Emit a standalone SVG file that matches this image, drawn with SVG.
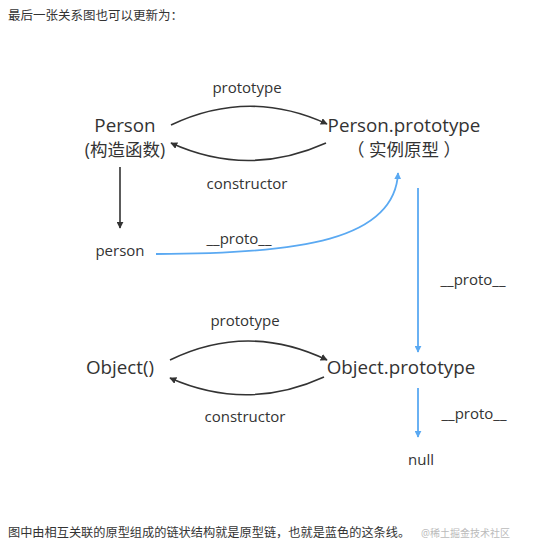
<svg xmlns="http://www.w3.org/2000/svg" width="538" height="557" viewBox="0 0 538 557">
<style>
text{font-family:"Open Sans","Noto Sans CJK SC",sans-serif;fill:#333}
.cap{font-size:12.5px;font-family:"Noto Sans CJK SC",sans-serif;fill:#333}
.node{font-size:18.8px}
.cjk{font-size:17.5px}
.lbl{font-size:15px}
.blk{fill:none;stroke:#333;stroke-width:1.6}
.blue{fill:none;stroke:#5aa9f2;stroke-width:1.8}
</style>
<defs>
<marker id="ak" viewBox="0 0 10 10" refX="9" refY="5" markerWidth="7" markerHeight="7" markerUnits="userSpaceOnUse" orient="auto"><path d="M0,0L10,5L0,10z" fill="#333"/></marker>
<marker id="ab" viewBox="0 0 10 10" refX="9" refY="5" markerWidth="7" markerHeight="7" markerUnits="userSpaceOnUse" orient="auto"><path d="M0,0L10,5L0,10z" fill="#5aa9f2"/></marker>
</defs>
<rect width="538" height="557" fill="#fff"/>
<text class="cap" x="8" y="20">最后一张关系图也可以更新为：</text>
<g id="connectors">
<path class="blk" d="M171,125 Q249,88 327,124" marker-end="url(#ak)"/>
<path class="blk" d="M326,143 Q248,178 171,143" marker-end="url(#ak)"/>
<path class="blk" d="M120,167 L120,228" marker-end="url(#ak)"/>
<path class="blue" d="M156,254 C300,254 395,240 398,173" marker-end="url(#ab)"/>
<path class="blue" d="M418,188 L418,352" marker-end="url(#ab)"/>
<path class="blk" d="M170,360 Q248,322 327,360" marker-end="url(#ak)"/>
<path class="blk" d="M324,377 Q247,412 170,378" marker-end="url(#ak)"/>
<path class="blue" d="M418,388 L418,437" marker-end="url(#ab)"/>
<text class="lbl" x="247" y="93" text-anchor="middle">prototype</text>
<text class="lbl" x="247" y="189" text-anchor="middle">constructor</text>
<text class="lbl" x="239" y="244" text-anchor="middle">__proto__</text>
<text class="lbl" x="473" y="285" text-anchor="middle">__proto__</text>
<text class="lbl" x="245" y="326" text-anchor="middle">prototype</text>
<text class="lbl" x="245" y="422" text-anchor="middle">constructor</text>
<text class="lbl" x="474" y="419" text-anchor="middle">__proto__</text>
</g>
<g id="person-ctor">
<text class="node" x="125" y="132" text-anchor="middle">Person</text>
<text class="cjk" x="125" y="156" text-anchor="middle">(构造函数)</text>
</g>
<g id="person-prototype">
<text class="node" x="404" y="132" text-anchor="middle">Person.prototype</text>
<text class="cjk" x="404" y="156" text-anchor="middle">（ 实例原型 ）</text>
</g>
<g id="person">
<text class="lbl" x="120" y="256" text-anchor="middle">person</text>
</g>
<g id="object-ctor">
<text class="node" x="120" y="374" text-anchor="middle">Object()</text>
</g>
<g id="object-prototype">
<text class="node" x="401" y="374" text-anchor="middle">Object.prototype</text>
</g>
<g id="null">
<text class="lbl" x="421" y="465" text-anchor="middle">null</text>
</g>
<text class="cap" x="8" y="537" style="font-size:12.2px">图中由相互关联的原型组成的链状结构就是原型链，也就是蓝色的这条线。</text>
<text x="421" y="537" style="font-size:10px;fill:#bbb">@稀土掘金技术社区</text>
</svg>
